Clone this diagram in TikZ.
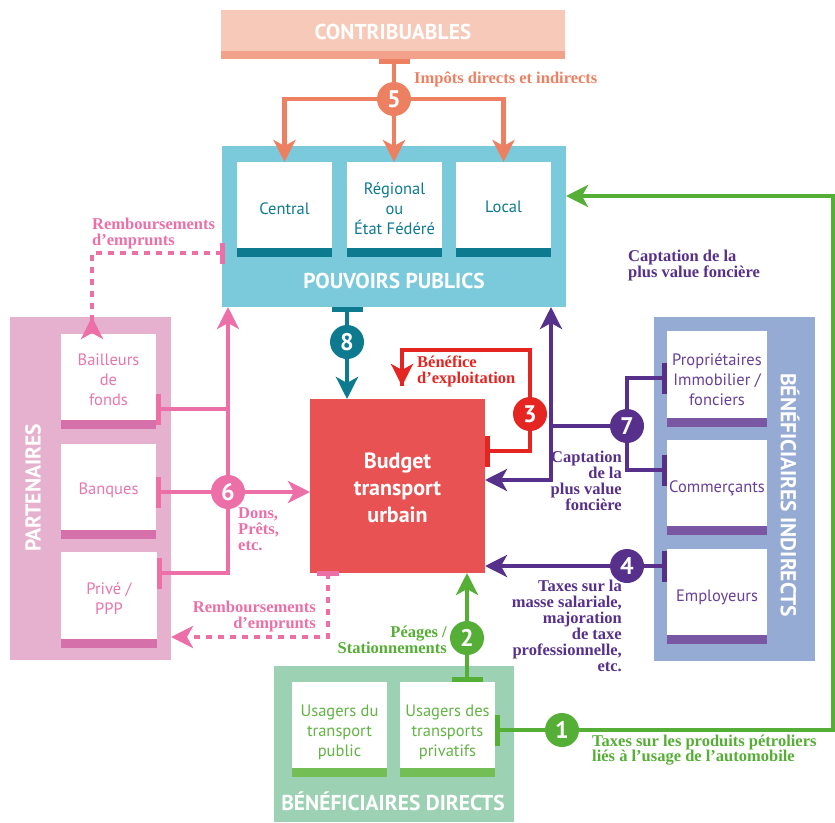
\documentclass[tikz,border=0pt]{standalone}
\usepackage{fontspec}
\setmainfont{Liberation Serif}
\newfontfamily\ptsans{PT Sans}
\usetikzlibrary{arrows.meta}
\definecolor{salmonbg}{HTML}{F7C9B8}
\definecolor{salmonst}{HTML}{F2A18A}
\definecolor{salmon}{HTML}{EE8062}
\definecolor{ppbg}{HTML}{7BCADC}
\definecolor{tealc}{HTML}{0E7A90}
\definecolor{budgetc}{HTML}{E95252}
\definecolor{redc}{HTML}{E52521}
\definecolor{pinkbg}{HTML}{E6B0CF}
\definecolor{pinkst}{HTML}{D670AB}
\definecolor{pinkc}{HTML}{EC6FA7}
\definecolor{pinktx}{HTML}{E877AE}
\definecolor{indbg}{HTML}{96ABD3}
\definecolor{purst}{HTML}{7A57A3}
\definecolor{purc}{HTML}{56308A}
\definecolor{purtx}{HTML}{68409A}
\definecolor{dirbg}{HTML}{9CD1B3}
\definecolor{grst}{HTML}{73BE55}
\definecolor{grc}{HTML}{55AE35}
\definecolor{grtx}{HTML}{63B345}
\begin{document}
\begin{tikzpicture}[x=1pt,y=-1pt,
  box/.style={rectangle,inner sep=0pt,outer sep=0pt,anchor=north west},
  wbox/.style={box,fill=white},
  lbl/.style={font=\ptsans\fontsize{16.5}{20}\selectfont,align=center,inner sep=0pt},
  head/.style={font=\ptsans\bfseries\fontsize{21.5}{22}\selectfont,text=white,inner sep=0pt},
  num/.style={circle,inner sep=0pt,minimum size=34pt,font=\ptsans\bfseries\fontsize{24}{24}\selectfont,text=white},
  note/.style={font=\bfseries\fontsize{16.5}{16}\selectfont,inner sep=0pt},
  flow/.style={line width=4.5pt},
  dflow/.style={line width=4.5pt,dash pattern=on 6pt off 6pt},
  tb/.style={{Bar[width=31pt,line width=5pt]}-},
  >={Stealth[length=22pt,width=22pt,inset=6pt]}
]
\useasboundingbox (0,0) rectangle (835,822);

% ---------- CONTRIBUABLES
\node[box,fill=salmonbg,minimum width=344pt,minimum height=49pt] (contrib) at (221,10) {};
\fill[salmonst] (contrib.south west) rectangle ([yshift=8pt]contrib.south east);
\node[head] (tcontrib) at (393,32) {CONTRIBUABLES};

% ---------- POUVOIRS PUBLICS
\node[box,fill=ppbg,minimum width=344pt,minimum height=161pt] (pp) at (222,146) {};
\node[wbox,minimum width=95pt,minimum height=86pt] (central) at (237,162) {};
\node[wbox,minimum width=95pt,minimum height=86pt] (regional) at (347,162) {};
\node[wbox,minimum width=95pt,minimum height=86pt] (local) at (456,162) {};
\foreach \b in {central,regional,local}
  \fill[tealc] (\b.south west) rectangle ([yshift=-9pt]\b.south east);
\node[lbl,text=tealc] (tcentral) at ([yshift=-4pt]central.center) {Central};
\node[lbl,text=tealc] (tregional) at ([yshift=-4pt]regional.center) {Régional\\ou\\État Fédéré};
\node[lbl,text=tealc] (tlocal) at ([yshift=-2pt]local.center) {Local};
\node[head] (tpp) at (394,281) {POUVOIRS PUBLICS};

% ---------- BUDGET
\node[box,fill=budgetc,minimum width=175pt,minimum height=174pt] (budget) at (310,399) {};
\node[font=\ptsans\bfseries\fontsize{22}{27}\selectfont,text=white,align=center] (tbudget) at ([yshift=-2pt]budget.center) {Budget\\transport\\urbain};

% ---------- PARTENAIRES
\node[box,fill=pinkbg,minimum width=161pt,minimum height=343pt] (part) at (10,317) {};
\node[wbox,minimum width=95pt,minimum height=86pt] (bail) at (61,334) {};
\node[wbox,minimum width=95pt,minimum height=86pt] (banq) at (61,444) {};
\node[wbox,minimum width=96pt,minimum height=87pt] (prive) at (61,552) {};
\foreach \b in {bail,banq,prive}
  \fill[pinkst] (\b.south west) rectangle ([yshift=-9pt]\b.south east);
\node[lbl,text=pinktx] (tbail) at ([yshift=-3pt]bail.center) {Bailleurs\\de\\fonds};
\node[lbl,text=pinktx] (tbanq) at ([yshift=-3pt]banq.center) {Banques};
\node[lbl,text=pinktx] (tprive) at ([yshift=-3pt]prive.center) {Privé /\\PPP};
\node[head,rotate=90] (tpart) at (33,488) {PARTENAIRES};

% ---------- BENEFICIAIRES INDIRECTS
\node[box,fill=indbg,minimum width=161pt,minimum height=344pt] (ind) at (654,317) {};
\node[wbox,minimum width=100pt,minimum height=87pt] (prop) at (667,331) {};
\node[wbox,minimum width=100pt,minimum height=86pt] (comm) at (667,440) {};
\node[wbox,minimum width=100pt,minimum height=86pt] (empl) at (667,549) {};
\foreach \b in {prop,comm,empl}
  \fill[purst] (\b.south west) rectangle ([yshift=-9pt]\b.south east);
\node[lbl,text=purtx] (tprop) at ([yshift=-5pt]prop.center) {Propriétaires\\Immobilier /\\fonciers};
\node[lbl,text=purtx] (tcomm) at ([yshift=-5pt]comm.center) {Commerçants};
\node[lbl,text=purtx] (templ) at ([yshift=-5pt]empl.center) {Employeurs};
\node[head,rotate=-90] (tind) at (790,495) {BÉNÉFICIAIRES INDIRECTS};

% ---------- BENEFICIAIRES DIRECTS
\node[box,fill=dirbg,minimum width=240pt,minimum height=156pt] (dir) at (274,666) {};
\node[wbox,minimum width=95pt,minimum height=86pt] (upub) at (292,682) {};
\node[wbox,minimum width=95pt,minimum height=86pt] (upriv) at (400,682) {};
\foreach \b in {upub,upriv}
  \fill[grst] (\b.south west) rectangle ([yshift=-9pt]\b.south east);
\node[lbl,text=grtx] (tupub) at ([yshift=-7pt]upub.center) {Usagers du\\transport\\public};
\node[lbl,text=grtx] (tupriv) at ([yshift=-7pt]upriv.center) {Usagers des\\transports\\privatifs};
\node[head] (tdir) at (393,801) {BÉNÉFICIAIRES DIRECTS};

% ---------- number circles (positions)
\coordinate (p5) at (394,99);
\coordinate (p8) at (347,342);
\coordinate (p3) at (530,414);
\coordinate (p7) at (627,426);
\coordinate (p4) at (627,566);
\coordinate (p6) at (228,492);
\coordinate (p2) at (467,638);
\coordinate (p1) at (562,730);

% ---------- flow 5
\draw[flow,salmon,tb] (contrib.south -| p5) -- (p5);
\draw[flow,salmon,->] (p5) -| (central.north);
\draw[flow,salmon,->] (p5) -- (regional.north -| p5);
\draw[flow,salmon,->] (p5) -| (local.north);

% ---------- flow 8
\draw[flow,tealc,tb] (pp.south -| p8) -- (p8);
\draw[flow,tealc,->] (p8) -- (budget.north -| p8);

% ---------- flow 3
\coordinate (r1) at (530,451);
\coordinate (r2) at (530,350);
\coordinate (r3) at (402,350);
\coordinate (r4) at (402,386);
\draw[flow,redc,tb] (budget.east |- r1) -- (r1) -- (r2) -- (r3) -- (r4);
\draw[flow,redc,->] (r3) -- (r4);

% ---------- flow 7
\coordinate (j1) at (551,426);
\coordinate (j2) at (551,480);
\coordinate (k1) at (627,378);
\coordinate (k2) at (627,470);
\draw[flow,purc,tb] (prop.west |- k1) -- (k1) -- (p7);
\draw[flow,purc,tb] (comm.west |- k2) -- (k2) -- (p7);
\draw[flow,purc,->] (p7) -- (j1) -- (j1 |- pp.south);
\draw[flow,purc,->] (j1) -- (j2) -- (budget.east |- j2);

% ---------- flow 4
\draw[flow,purc,tb] (empl.west |- p4) -- (p4);
\draw[flow,purc,->] (p4) -- (budget.east |- p4);

% ---------- flow 6
\coordinate (q1) at (228,409);
\coordinate (q2) at (228,573);
\draw[flow,pinkc,tb] (bail.east |- q1) -- (q1);
\draw[flow,pinkc,tb] (banq.east |- p6) -- (p6);
\draw[flow,pinkc,tb] (prive.east |- q2) -- (q2) -- (p6);
\draw[flow,pinkc,->] (p6) -- (pp.south -| p6);
\draw[flow,pinkc,->] (p6) -- (budget.west |- p6);

% ---------- dashed remboursements
\coordinate (d1) at (92,253);
\draw[dflow,pinkc] (pp.west |- d1) -- (d1) -- ([yshift=-18pt]part.north -| d1);
\draw[flow,pinkc,->] ([yshift=-16pt]part.north -| d1) -- (part.north -| d1);
\draw[line width=5pt,pinkc] ([yshift=10pt]pp.west |- d1) -- ([yshift=-11pt]pp.west |- d1);
\coordinate (d2) at (328,637);
\draw[dflow,pinkc] (budget.south -| d2) -- (d2) -- ([xshift=18pt]part.east |- d2);
\draw[flow,pinkc,->] ([xshift=16pt]part.east |- d2) -- (part.east |- d2);
\draw[line width=5pt,pinkc] ([xshift=-11pt]budget.south -| d2) -- ([xshift=11pt]budget.south -| d2);

% ---------- flow 2
\draw[flow,grc,tb] (upriv.north -| p2) -- (p2);
\draw[flow,grc,->] (p2) -- (budget.south -| p2);

% ---------- flow 1
\coordinate (g1) at (833,730);
\coordinate (g2) at (833,196);
\draw[flow,grc,tb] (upriv.east |- p1) -- (p1);
\draw[flow,grc,->] (p1) -- (g1) -- (g2) -- (pp.east |- g2);

% ---------- circles
\node[num,fill=salmon] (c5) at (p5) {5};
\node[num,fill=tealc] (c8) at (p8) {8};
\node[num,fill=redc] (c3) at (p3) {3};
\node[num,fill=purc] (c7) at (p7) {7};
\node[num,fill=purc] (c4) at (p4) {4};
\node[num,fill=pinkc] (c6) at (p6) {6};
\node[num,fill=grc] (c2) at (p2) {2};
\node[num,fill=grc] (c1) at (p1) {1};

% ---------- notes
\node[note,text=salmon,anchor=west] (n5) at (414,79) {Impôts directs et indirects};
\node[note,text=pinkc,anchor=west,align=left] (nr1) at (92,234) {Remboursements\\d’emprunts};
\node[note,text=pinkc,anchor=east,align=right] (nr2) at (316,617) {Remboursements\\d’emprunts};
\node[note,text=redc,anchor=west,align=left] (n3) at (417,371) {Bénéfice\\d’exploitation};
\node[note,text=pinkc,anchor=west,align=left] (n6) at (238,529) {Dons,\\Prêts,\\etc.};
\node[note,text=purc,anchor=west,align=left] (nc1) at (628,266) {Captation de la\\plus value foncière};
\node[note,text=purc,anchor=east,align=right] (nc2) at (622,481) {Captation\\de la\\plus value\\foncière};
\node[note,text=purc,anchor=east,align=right] (n4) at (622,626) {Taxes sur la\\masse salariale,\\majoration\\de taxe\\professionnelle,\\etc.};
\node[note,text=grc,anchor=east,align=right] (n2) at (447,640) {Péages /\\Stationnements};
\node[note,text=grc,anchor=west,align=left,font=\bfseries\fontsize{16.5}{15}\selectfont] (n1) at (592,750) {Taxes sur les produits pétroliers\\liés à l’usage de l’automobile};
\end{tikzpicture}
\end{document}
